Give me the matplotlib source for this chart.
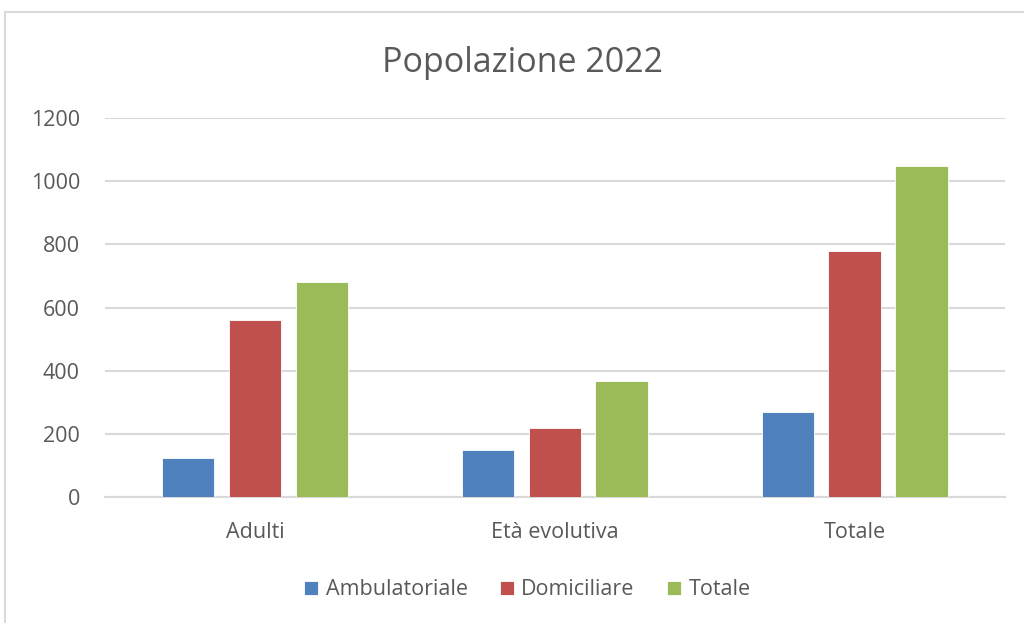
import matplotlib.pyplot as plt
import numpy as np
from matplotlib.lines import Line2D

categories = ["Adulti", "Età evolutiva", "Totale"]
series_names = ["Ambulatoriale", "Domiciliare", "Totale"]
ambulatoriale = [122, 148, 268]
domiciliare = [562, 220, 780]
totale = [682, 366, 1048]
y_ticks = [0, 200, 400, 600, 800, 1000, 1200]

colors = ["#4f81bd", "#c0504d", "#9bbb59"]
text_color = "#595959"
grid_color = "#d9d9d9"

plt.rcParams["font.family"] = ["Open Sans", "DejaVu Sans"]

fig = plt.figure(figsize=(10.24, 6.23), dpi=100)
ax = fig.add_axes([0.1025, 0.2022, 0.8785, 0.6084])

x = np.arange(len(categories))
offset = 0.223
width = 0.175
for i, (name, values) in enumerate(zip(series_names, [ambulatoriale, domiciliare, totale])):
    ax.bar(x + (i - 1) * offset, values, width, color=colors[i], label=name,
           edgecolor="white", linewidth=0.6, zorder=3)

ax.set_xlim(-0.5, 2.5)
ax.set_ylim(0, 1200)
ax.set_yticks(y_ticks)
ax.set_xticks(x)
ax.set_xticklabels(categories)
ax.yaxis.grid(True, color=grid_color, linewidth=1.5, zorder=0)
ax.tick_params(axis="both", length=0, labelsize=15.5, labelcolor=text_color)
ax.tick_params(axis="x", pad=18)
ax.tick_params(axis="y", pad=18)
for side in ["top", "right", "left"]:
    ax.spines[side].set_visible(False)
ax.spines["bottom"].set_color(grid_color)
ax.spines["bottom"].set_linewidth(1.5)

fig.text(0.51, 0.899, "Popolazione 2022", ha="center", va="center",
         fontsize=24.5, color=text_color)

fig.legend(loc="center", bbox_to_anchor=(0.515, 0.053), ncol=3, frameon=False,
           handlelength=0.65, handleheight=0.65, handletextpad=0.35,
           columnspacing=1.5, fontsize=15.5, labelcolor=text_color)

# chart border
fig.add_artist(Line2D([5 / 1024, 1.0], [1 - 12 / 623, 1 - 12 / 623],
                      color=grid_color, linewidth=1.5))
fig.add_artist(Line2D([5 / 1024, 5 / 1024], [0.0, 1 - 12 / 623],
                      color=grid_color, linewidth=1.5))

fig.savefig("out.png", dpi=100)
